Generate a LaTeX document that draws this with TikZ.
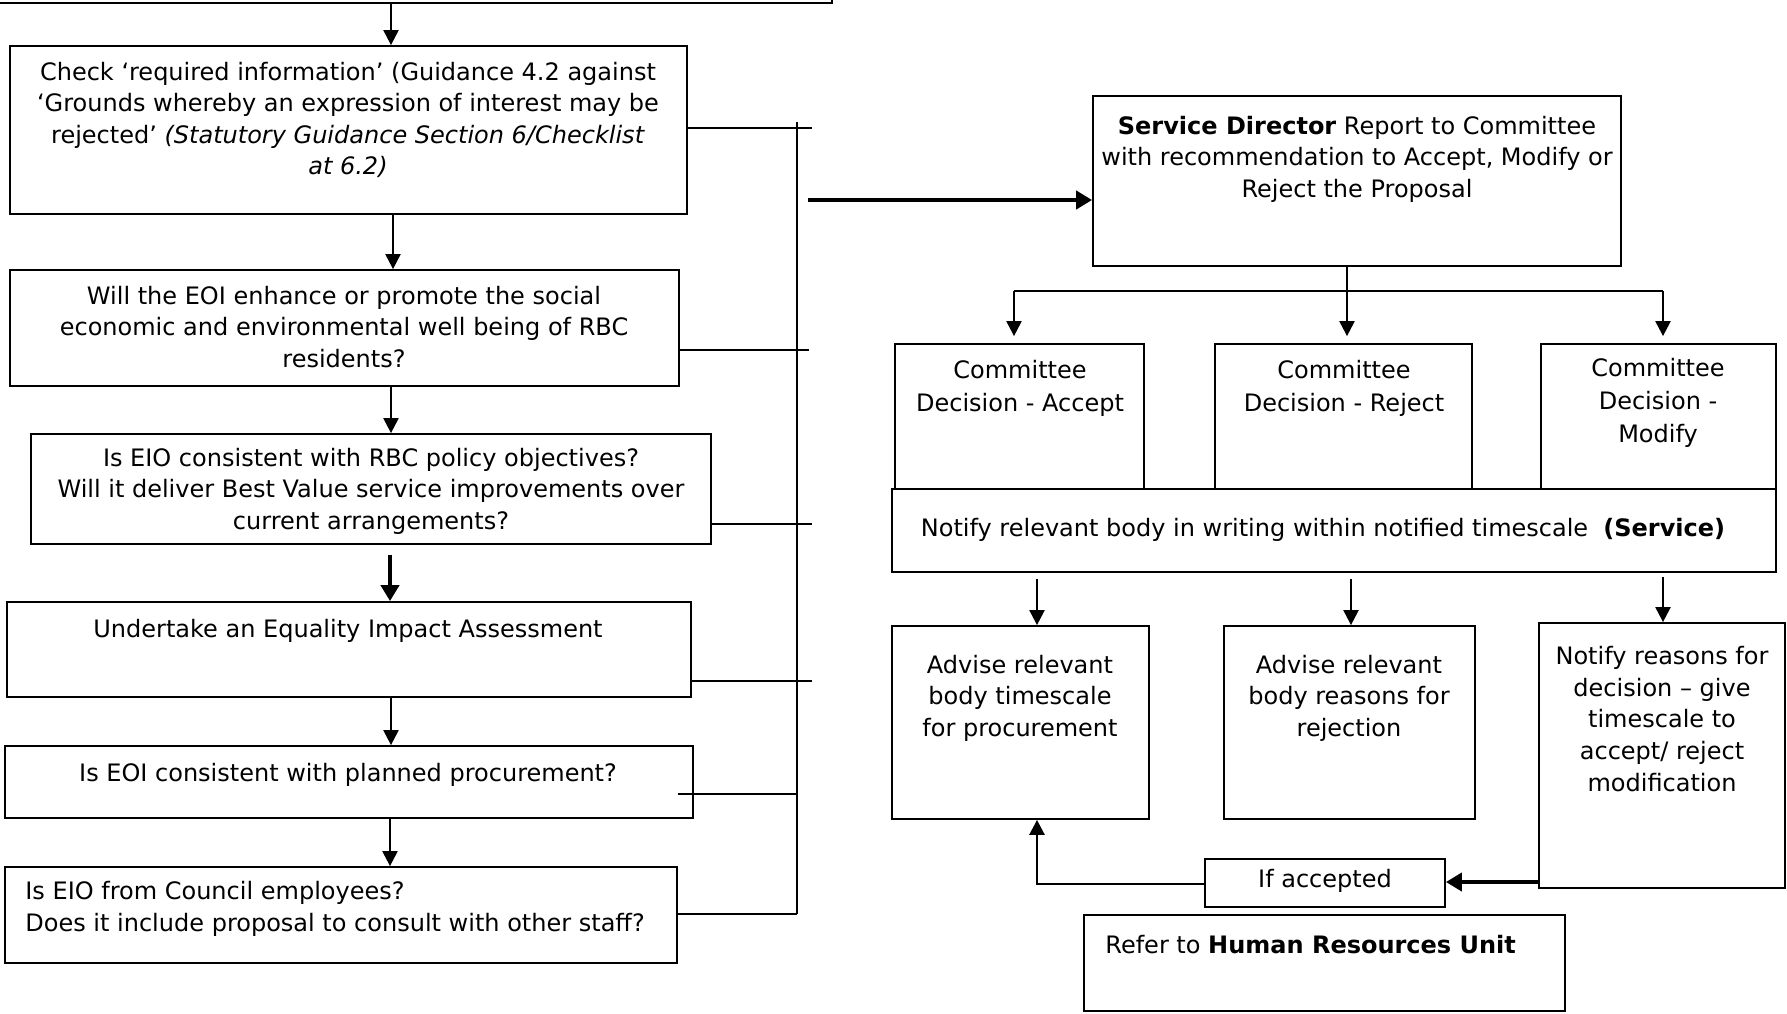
\documentclass[tikz,border=0pt]{standalone}
\usepackage{fontspec}
\setmainfont{DejaVu Sans}[ItalicFont={DejaVu Sans Oblique},BoldFont={DejaVu Sans Bold},BoldItalicFont={DejaVu Sans Bold Oblique}]
\usetikzlibrary{arrows.meta,fit,calc}
\begin{document}
\begin{tikzpicture}[x=0.5pt,y=-0.5pt,
  box/.style={draw,line width=0.9pt,inner sep=0pt,rectangle},
  thickbox/.style={box,line width=1.4pt},
  txt/.style={inner sep=0pt,align=center,font=\fontsize{12}{15.8}\selectfont},
  txtw/.style={txt,font=\fontsize{12}{16.5}\selectfont},
  txtl/.style={txt,align=left,anchor=west},
  conn/.style={line width=1.1pt},
  arr/.style={conn,-{Triangle[length=7.5pt,width=7.5pt]}},
  thickarr/.style={line width=2pt,-{Triangle[length=8pt,width=9pt]}},
]
\useasboundingbox (0,0) rectangle (1787,1013);
\fill[white] (0,0) rectangle (1787,1013);

% left column boxes
\node[box,fit={(-20,-40)(832,3)}] (top) {};
\node[box,fit={(10,46)(687,214)}] (check) {};
\node[box,fit={(10,270)(679,386)}] (will) {};
\node[box,fit={(31,434)(711,544)}] (eio) {};
\node[box,fit={(7,602)(691,697)}] (eqia) {};
\node[box,fit={(5,746)(693,818)}] (proc) {};
\node[box,fit={(5,867)(677,963)}] (staff) {};

% right side boxes
\node[box,fit={(1093,96)(1621,266)}] (sd) {};
\node[box,fit={(895,344)(1144,489)}] (acc) {};
\node[box,fit={(1215,344)(1472,489)}] (rej) {};
\node[box,fit={(1541,344)(1776,489)}] (mod) {};
\node[thickbox,fit={(892,489)(1776,572)}] (nt) {};
\node[box,fit={(892,626)(1149,819)}] (adv1) {};
\node[box,fit={(1224,626)(1475,819)}] (adv2) {};
\node[box,fit={(1539,623)(1785,888)}] (nr) {};
\node[box,fit={(1205,859)(1445,907)}] (ifacc) {};
\node[box,fit={(1084,915)(1565,1011)}] (hr) {};

% texts
\node[txt] (checkT) at (348,120) {Check ‘required information’ (Guidance 4.2 against\\‘Grounds whereby an expression of interest may be\\rejected’ \textit{(Statutory Guidance Section 6/Checklist}\\\textit{at 6.2)}};
\node[txt] (willT) at (344,327) {Will the EOI enhance or promote the social\\economic and environmental well being of RBC\\residents?};
\node[txt] (eioT) at (371,491) {Is EIO consistent with RBC policy objectives?\\Will it deliver Best Value service improvements over\\current arrangements?};
\node[txt] (eqiaT) at (348,631) {Undertake an Equality Impact Assessment};
\node[txt] (procT) at (348,775) {Is EOI consistent with planned procurement?};
\node[txtl] (staffT) at (25,909) {Is EIO from Council employees?\\Does it include proposal to consult with other staff?};
\node[txt] (sdT) at (1357,159) {\textbf{Service Director} Report to Committee\\with recommendation to Accept, Modify or\\Reject the Proposal};
\node[txtw] (accT) at (1020,388) {Committee\\Decision - Accept};
\node[txtw] (rejT) at (1344,388) {Committee\\Decision - Reject};
\node[txtw] (modT) at (1658,403) {Committee\\Decision -\\Modify};
\node[txt] (ntT) at (1323,530) {Notify relevant body in writing within notified timescale\ \ \textbf{(Service)}};
\node[txt] (adv1T) at (1020,698) {Advise relevant\\body timescale\\for procurement};
\node[txt] (adv2T) at (1349,698) {Advise relevant\\body reasons for\\rejection};
\node[txt] (nrT) at (1662,719) {Notify reasons for\\decision – give\\timescale to\\accept/ reject\\modification};
\node[txt] (ifT) at (1325,881) {If accepted};
\node[txtl] (hrT) at (1105,945) {Refer to \textbf{Human Resources Unit}};

% left connectors
\coordinate (busTop) at (797,122);
\coordinate (busBot) at (797,914);
\coordinate (procL) at ([xshift=-8pt]proc.east);
\coordinate (sdIn) at (808,200);
\draw[conn] (busTop) -- (busBot);
\draw[conn] (check.east |- 0,128) -- ++(124,0);
\draw[conn] (will.east |- 0,350) -- ++(129,0);
\draw[conn] (eio.east |- 0,524) -- ++(100,0);
\draw[conn] (eqia.east |- 0,681) -- ++(120,0);
\draw[conn] (procL |- 0,794) -- (busBot |- 0,794);
\draw[conn] (staff.east |- busBot) -- (busBot);
\draw[thickarr] (sdIn) -- (sd.west |- sdIn);

\draw[arr] (top.south -| 391,0) -- (check.north -| 391,0);
\draw[arr] (check.south -| 393,0) -- (will.north -| 393,0);
\draw[arr] (will.south -| 391,0) -- (eio.north -| 391,0);
\draw[thickarr,shorten <=5pt] (eio.south -| 390,0) -- (eqia.north -| 390,0);
\draw[arr] (eqia.south -| 391,0) -- (proc.north -| 391,0);
\draw[arr] (proc.south -| 390,0) -- (staff.north -| 390,0);

% right connectors
\coordinate (barL) at (1014,291);
\coordinate (barR) at (1663,291);
\draw[arr,shorten >=3.5pt] (sd.south -| 1347,0) -- (rej.north -| 1347,0);
\draw[conn] (barL) -- (barR);
\draw[arr,shorten >=3.5pt] (barL) -- (acc.north -| barL);
\draw[arr,shorten >=3.5pt] (barR) -- (mod.north -| barR);

\draw[arr,shorten <=3pt] (nt.south -| 1037,0) -- (adv1.north -| 1037,0);
\draw[arr,shorten <=3pt] (nt.south -| 1351,0) -- (adv2.north -| 1351,0);
\draw[arr,shorten <=2pt] (nt.south -| 1663,0) -- (nr.north -| 1663,0);
\draw[thickarr] (nr.west |- 0,882) -- (ifacc.east |- 0,882);
\draw[arr,line width=1.3pt] (ifacc.west |- 0,884) -| (adv1.south -| 1037,0);
\end{tikzpicture}
\end{document}
